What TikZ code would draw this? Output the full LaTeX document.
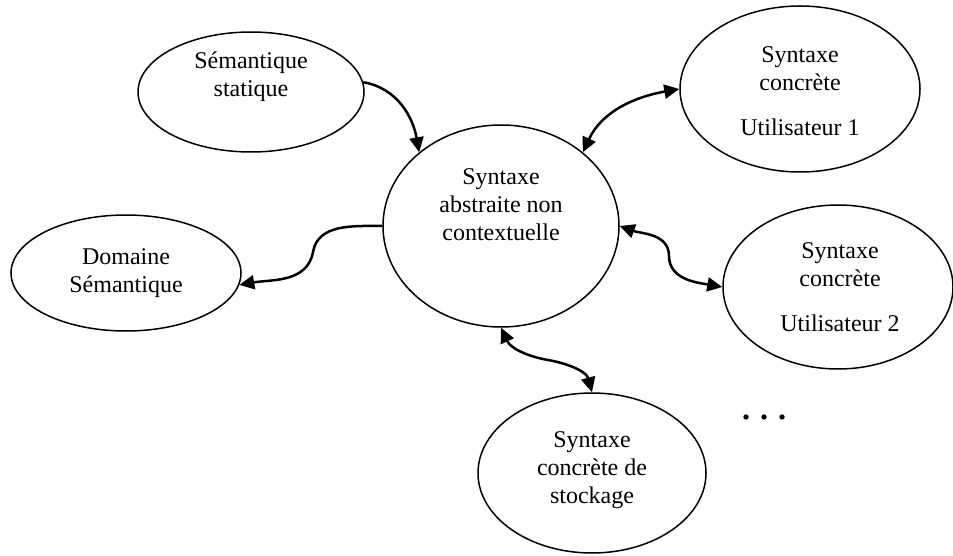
\documentclass[tikz,border=0pt]{standalone}
\usepackage{fontspec}
\setmainfont{Liberation Serif}
\newfontfamily\texteserif{Liberation Serif}
\usetikzlibrary{shapes.geometric,arrows.meta}

\tikzset{
  bulle/.style={draw, ellipse, line width=1.5pt, inner sep=0pt},
  etiq/.style={align=center, font=\texteserif\fontsize{24}{28}\selectfont},
  fleche/.style={line width=2.5pt, -{Triangle[length=15pt,width=14pt]}},
  deuxsens/.style={line width=2.5pt, {Triangle[length=15pt,width=14pt]}-{Triangle[length=15pt,width=14pt]}}
}

\begin{document}
\begin{tikzpicture}[x=1pt,y=1pt]
    \useasboundingbox (0,0) rectangle (953,-556);

    % Les ellipses
    \node[bulle, minimum width=226, minimum height=120] (statique) at (251,-92) {};
    \node[bulle, minimum width=236, minimum height=202] (abstraite) at (501,-226) {};
    \node[bulle, minimum width=240, minimum height=166] (util1) at (800,-89) {};
    \node[bulle, minimum width=230, minimum height=116] (domaine) at (126,-273) {};
    \node[bulle, minimum width=230, minimum height=164] (util2) at (838,-287) {};
    \node[bulle, minimum width=228, minimum height=160] (stockage) at (592,-473) {};

    % Les textes
    \node[etiq] (statique-t) at (251,-77) {Sémantique\\statique};
    \node[etiq] (abstraite-t) at (501,-205) {Syntaxe\\abstraite non\\contextuelle};
    \node[etiq] (util1-t) at (800,-91) {Syntaxe\\concrète\\[17pt]Utilisateur 1};
    \node[etiq] (domaine-t) at (126,-273) {Domaine\\Sémantique};
    \node[etiq] (util2-t) at (840,-287) {Syntaxe\\concrète\\[17pt]Utilisateur 2};
    \node[etiq] (stockage-t) at (592,-470) {Syntaxe\\concrète de\\stockage};

    % Les fleches
    \draw[fleche] (statique.5) to[out=-10,in=100] (abstraite.138);
    \draw[fleche] (abstraite.west) to[out=180,in=80] (313,-252) to[out=-100,in=10] (domaine.-6);
    \draw[deuxsens] (abstraite.42) to[out=65,in=190] (util1.180);
    \draw[deuxsens] (abstraite.east) to[out=-20,in=90] (669,-256) to[out=-90,in=170] (util2.west);
    \draw[deuxsens] (abstraite.south) to[out=-65,in=170] (548,-360) to[out=-10,in=105] (stockage.north);

    % Les points de suspension
    \fill (746,-417) circle (2.7);
    \fill (764,-417) circle (2.7);
    \fill (782,-417) circle (2.7);
\end{tikzpicture}
\end{document}
